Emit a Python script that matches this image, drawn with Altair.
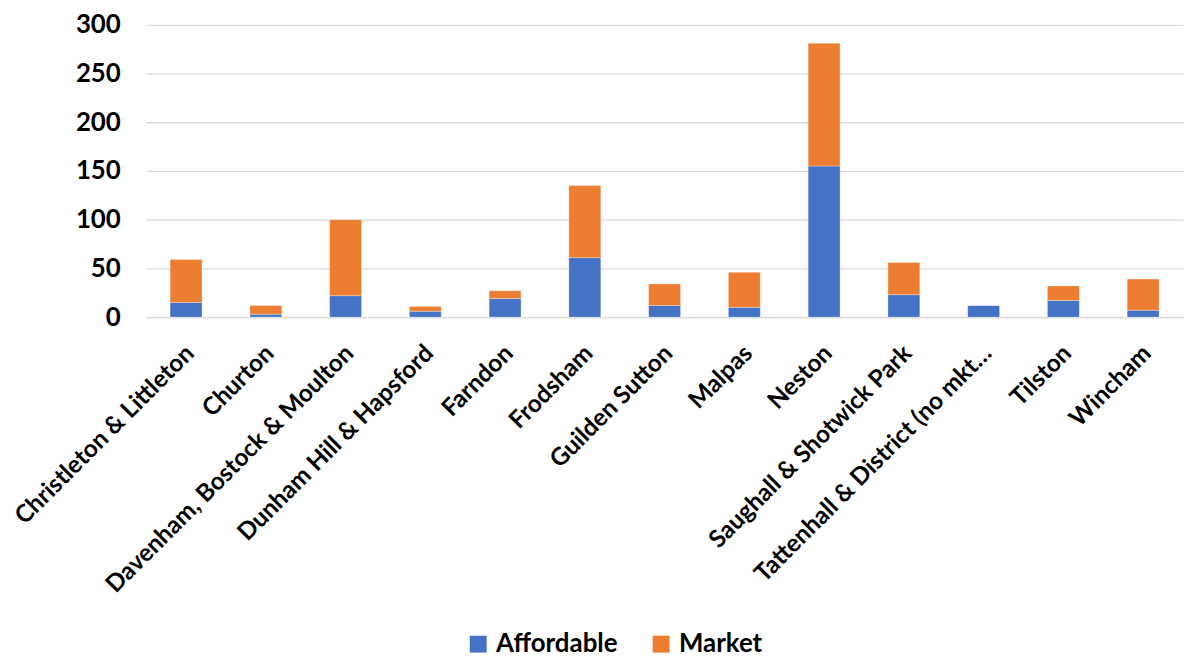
import altair as alt
import pandas as pd

categories = [
    "Christleton & Littleton", "Churton", "Davenham, Bostock & Moulton",
    "Dunham Hill & Hapsford", "Farndon", "Frodsham", "Guilden Sutton",
    "Malpas", "Neston", "Saughall & Shotwick Park",
    "Tattenhall & District (no mkt…", "Tilston", "Wincham",
]
affordable = [15, 3, 22, 6, 19, 61, 12, 10, 155, 23, 12, 17, 7]
market = [44, 9, 78, 5, 8, 74, 22, 36, 126, 33, 0, 15, 32]
series = ["Affordable", "Market"]
colors = ["#4472C4", "#ED7D31"]
y_ticks = [0, 50, 100, 150, 200, 250, 300]

rows = []
for c, a, m in zip(categories, affordable, market):
    rows.append({"Area": c, "Type": "Affordable", "Value": a, "ord": 0})
    rows.append({"Area": c, "Type": "Market", "Value": m, "ord": 1})
df = pd.DataFrame(rows)

FONT = "Lato"

chart = alt.Chart(df).mark_bar(stroke="white", strokeWidth=0.6, strokeOpacity=0.5).encode(
    x=alt.X("Area:N", sort=categories, title=None,
            scale=alt.Scale(paddingInner=0.6, paddingOuter=0.3),
            axis=alt.Axis(labelAngle=-45, labelFontSize=24.5, labelFont=FONT,
                          labelFontWeight="bold", labelColor="#000000",
                          ticks=False, domainColor="#D9D9D9", domainWidth=1.3,
                          labelPadding=24, labelOffset=-4, labelLimit=400)),
    y=alt.Y("Value:Q", title=None, stack="zero",
            scale=alt.Scale(domain=[0, 300], nice=False),
            axis=alt.Axis(values=y_ticks, labelFontSize=26, labelFont=FONT,
                          labelFontWeight="bold", labelColor="#000000",
                          ticks=False, domain=False, gridColor="#D9D9D9",
                          gridWidth=1.3, labelPadding=26)),
    color=alt.Color("Type:N", sort=series,
                    scale=alt.Scale(domain=series, range=colors),
                    legend=alt.Legend(title=None, orient="none", direction="horizontal",
                                      legendX=321, legendY=610, padding=0,
                                      labelFont=FONT, labelFontSize=26,
                                      labelFontWeight="bold", labelColor="#000000",
                                      symbolType="square", symbolSize=289,
                                      symbolStrokeWidth=0, columnPadding=30,
                                      labelOffset=5)),
    order=alt.Order("ord:Q"),
).properties(
    width=1043, height=294,
    autosize=alt.AutoSizeParams(type="none"),
    padding={"left": 139, "top": 15, "right": 2, "bottom": 342},
).configure_view(stroke=None)

chart.save("out.html", embed_options={"renderer": "svg", "actions": False})
